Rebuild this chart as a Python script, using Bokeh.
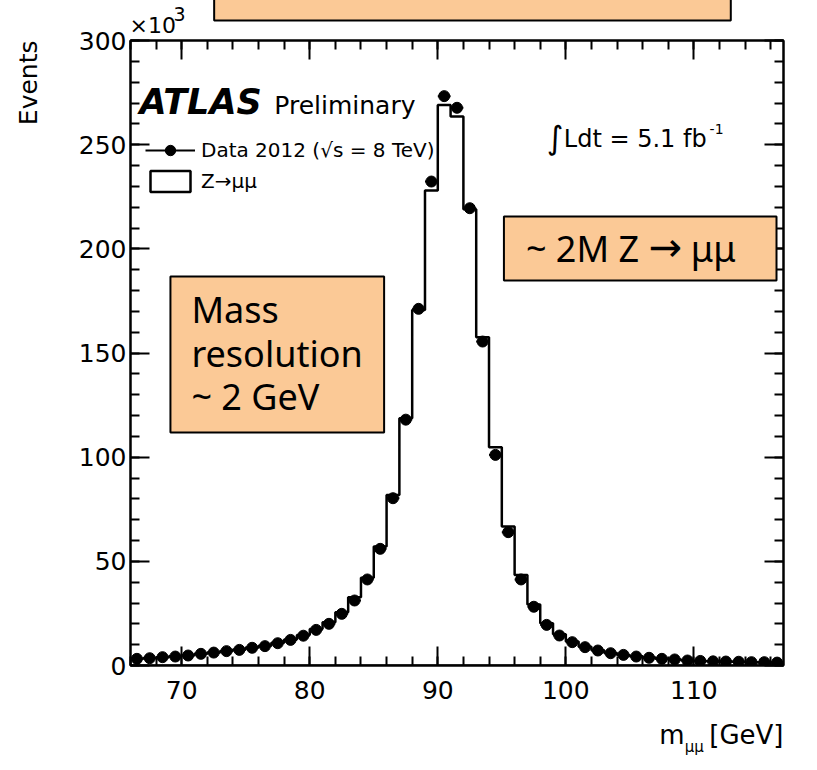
import math
from bokeh.plotting import figure
from bokeh.models import (Range1d, LinearAxis, Label, BoxAnnotation, Legend, LegendItem,
                          SingleIntervalTicker)
from bokeh.embed import file_html
from bokeh.resources import INLINE

# ---------------- data: events (x10^3) per 1 GeV bin ----------------
bin_low = [66, 67, 68, 69, 70, 71, 72, 73, 74, 75,
           76, 77, 78, 79, 80, 81, 82, 83, 84, 85,
           86, 87, 88, 89, 90, 91, 92, 93, 94, 95,
           96, 97, 98, 99, 100, 101, 102, 103, 104, 105,
           106, 107, 108, 109, 110, 111, 112, 113, 114, 115, 116]
bin_high = [67, 68, 69, 70, 71, 72, 73, 74, 75, 76,
            77, 78, 79, 80, 81, 82, 83, 84, 85, 86,
            87, 88, 89, 90, 91, 92, 93, 94, 95, 96,
            97, 98, 99, 100, 101, 102, 103, 104, 105, 106,
            107, 108, 109, 110, 111, 112, 113, 114, 115, 116, 117]
bin_center = [66.5, 67.5, 68.5, 69.5, 70.5, 71.5, 72.5, 73.5, 74.5, 75.5,
              76.5, 77.5, 78.5, 79.5, 80.5, 81.5, 82.5, 83.5, 84.5, 85.5,
              86.5, 87.5, 88.5, 89.5, 90.5, 91.5, 92.5, 93.5, 94.5, 95.5,
              96.5, 97.5, 98.5, 99.5, 100.5, 101.5, 102.5, 103.5, 104.5, 105.5,
              106.5, 107.5, 108.5, 109.5, 110.5, 111.5, 112.5, 113.5, 114.5, 115.5, 116.5]
data_events = [3.2, 3.5, 4.0, 4.3, 4.8, 5.6, 6.2, 6.9, 7.5, 8.5,
               9.3, 10.7, 12.3, 14.3, 17.1, 20.0, 24.8, 31.2, 41.3, 56.0,
               80.3, 118.0, 171.2, 232.3, 273.3, 267.7, 219.5, 155.5, 101.1, 64.0,
               41.3, 28.2, 19.5, 14.4, 11.2, 8.8, 7.2, 5.9, 5.1, 4.3,
               3.7, 3.2, 2.9, 2.4, 2.2, 2.0, 1.9, 1.8, 1.6, 1.6, 1.4]
mc_events = [3.3, 3.6, 4.0, 4.4, 4.9, 5.6, 6.3, 7.0, 7.7, 8.6,
             9.5, 10.9, 12.5, 14.6, 17.5, 20.8, 25.6, 32.8, 42.1, 57.1,
             81.9, 118.7, 170.7, 228.0, 269.0, 263.5, 219.0, 157.6, 104.8, 66.7,
             43.5, 29.3, 20.3, 15.0, 11.5, 9.0, 7.3, 6.0, 5.1, 4.4,
             3.8, 3.3, 2.9, 2.5, 2.2, 2.0, 1.9, 1.8, 1.6, 1.5, 1.4]
x_min, x_max = 66, 117
y_min, y_max = 0, 300

# ---------------- layout ----------------
W, H = 817, 770
FL, FR, FT, FB = 129, 783, 40, 665   # frame edges in picture pixels
BASE = 0.4                           # baseline correction (fraction of font size)


def X(px):
    return x_min + (px - FL) * (x_max - x_min) / (FR - FL)


def Y(py):
    return y_min + (FB - py) * (y_max - y_min) / (FB - FT)


FONT = "DejaVu Sans"
BOXFONT = "Noto Sans"
ORANGE = "#FBC996"

p = figure(width=W, height=H, output_backend="svg", toolbar_location=None,
           x_range=Range1d(x_min, x_max), y_range=Range1d(y_min, y_max),
           min_border_left=FL, min_border_right=W - FR,
           min_border_top=FT, min_border_bottom=H - FB,
           background_fill_color="white", border_fill_color="white")
p.grid.visible = False
p.outline_line_color = "black"
p.outline_line_width = 2


def style_axis(ax, labels=True):
    ax.axis_line_width = 2
    ax.major_tick_in = 19
    ax.major_tick_out = 0
    ax.minor_tick_in = 9
    ax.minor_tick_out = 0
    ax.major_tick_line_width = 2
    ax.minor_tick_line_width = 2
    if labels:
        ax.major_label_text_font = FONT
        ax.major_label_text_font_size = "25px"
        ax.major_label_text_color = "black"
    else:
        ax.major_label_text_font_size = "1px"
        ax.major_label_text_color = None
        ax.major_label_standoff = 0


p.xaxis.ticker = SingleIntervalTicker(interval=10, num_minor_ticks=5)
p.yaxis.ticker = SingleIntervalTicker(interval=50, num_minor_ticks=5)
style_axis(p.xaxis[0])
style_axis(p.yaxis[0])
p.xaxis.major_label_standoff = 15
p.yaxis.major_label_standoff = 4

top_ax = LinearAxis(ticker=SingleIntervalTicker(interval=10, num_minor_ticks=5))
right_ax = LinearAxis(ticker=SingleIntervalTicker(interval=50, num_minor_ticks=5))
style_axis(top_ax, labels=False)
style_axis(right_ax, labels=False)
p.add_layout(top_ax, "above")
p.add_layout(right_ax, "right")

# ---------------- MC histogram (outline closed on the axis) ----------------
hx = [bin_low[0]]
hy = [0]
for lo, hi, v in zip(bin_low, bin_high, mc_events):
    hx += [lo, hi]
    hy += [v, v]
hx.append(bin_high[-1])
hy.append(0)
mc_r = p.patch(hx, hy, fill_color="white", line_color="black", line_width=2.5)

# ---------------- data points ----------------
err_r = p.segment(x0=bin_low, x1=bin_high, y0=data_events, y1=data_events,
                  line_color="black", line_width=2)
dat_r = p.scatter(x=bin_center, y=data_events, size=11, marker="circle",
                  fill_color="black", line_color="black")

legend = Legend(items=[LegendItem(label="Data 2012 (\u221As = 8 TeV)", renderers=[err_r, dat_r]),
                       LegendItem(label="Z\u2192\u03bc\u03bc", renderers=[mc_r])],
                location=(144 - FL, FB - 194), orientation="vertical",
                glyph_width=50, glyph_height=26, label_height=26, spacing=5,
                label_standoff=6, padding=0, margin=0,
                border_line_color=None, background_fill_alpha=0,
                label_text_font=FONT, label_text_font_size="20px",
                label_text_color="black")
p.add_layout(legend)


def make_label(text, px, py, size, font=FONT, style="normal", align="left", angle=0.0):
    if angle == 0.0:
        py = py - BASE * size
    else:
        px = px - BASE * size
    return Label(x=X(px), y=Y(py), text=text, text_font=font,
                 text_font_size=f"{size}px", text_font_style=style,
                 text_align=align, text_baseline="alphabetic", angle=angle,
                 text_color="black")


def lab(text, px, py, size, place=None, **kw):
    lbl = make_label(text, px, py, size, **kw)
    if place is None:
        p.add_layout(lbl)
    else:
        p.add_layout(lbl, place)


# ---------------- orange boxes ----------------
# box at the very top of the picture (its content is cut off above the picture)
p.add_layout(Label(x=X(471.5), y=Y(9), text=".", text_font=FONT, text_font_size="2px",
                   text_color=ORANGE, text_align="center", text_baseline="middle",
                   padding=(258, 10), background_fill_color=ORANGE, background_fill_alpha=1,
                   border_line_color="black", border_line_width=2), "below")
p.add_layout(BoxAnnotation(left=X(169), right=X(383), bottom=Y(432), top=Y(276),
                           fill_color=ORANGE, fill_alpha=1, line_color="black",
                           line_alpha=1, line_width=2))
p.add_layout(BoxAnnotation(left=X(503), right=X(776), bottom=Y(280), top=Y(216),
                           fill_color=ORANGE, fill_alpha=1, line_color="black",
                           line_alpha=1, line_width=2))

lab("Mass", 190, 323, 36, font=BOXFONT)
lab("resolution", 190, 367, 36, font=BOXFONT)
lab("~ 2 GeV", 190, 410, 36, font=BOXFONT)
lab("~ 2M Z", 525, 262, 36, font=BOXFONT)
lab("\u2192", 648, 262, 40, font=FONT)
lab("\u03bc\u03bc", 690, 262, 36, font=BOXFONT)

# ---------------- ATLAS texts ----------------
lab("ATLAS", 138, 115, 35, style="bold italic")
lab("Preliminary", 273, 115, 25)
lab("\u222B", 546, 150, 32)
lab("Ldt = 5.1 fb", 563, 148, 24)
lab("-1", 709, 134, 14)

# ---------------- axis titles outside the frame (side panels) ----------------
lab("Events", 37, 40, 25, place="left", align="right", angle=math.pi / 2)
lab("m\u00a0\u00a0 [GeV]", 783, 745, 26, place="below", align="right")
lab("\u03bc\u03bc", 684, 752, 15, place="above")
lab("\u00d710", 128, 34, 22, place="left")
lab("3", 172, 21, 19, place="right")

open("out.html", "w").write(file_html(p, INLINE))
